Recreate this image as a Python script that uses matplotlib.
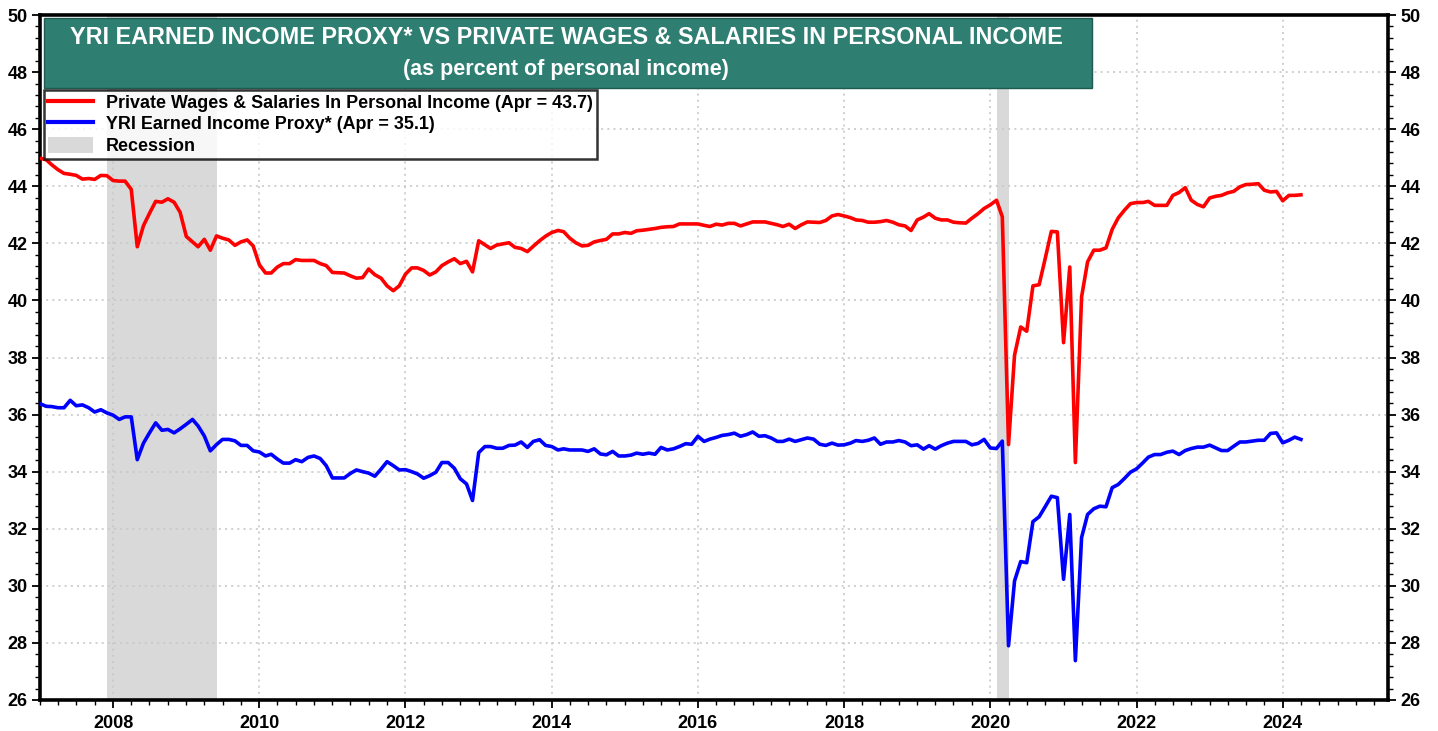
import numpy as np
import pandas as pd
import matplotlib
matplotlib.use("Agg")
import matplotlib.pyplot as plt
import matplotlib.dates as mdates
from matplotlib.patches import Patch, Rectangle
from matplotlib.lines import Line2D
from matplotlib.ticker import MultipleLocator

# ---------------- data (monthly, Jan 2007 - Apr 2024) ----------------
start_month = "2007-01-01"

wages_pct = [
    # 2007
    44.98, 44.93, 44.75, 44.58, 44.45, 44.42, 44.38, 44.25, 44.27, 44.24, 44.38, 44.37,
    # 2008
    44.20, 44.18, 44.18, 43.89, 41.88, 42.62, 43.05, 43.47, 43.44, 43.56, 43.44, 43.09,
    # 2009
    42.24, 42.05, 41.88, 42.14, 41.76, 42.26, 42.18, 42.12, 41.93, 42.05, 42.12, 41.91,
    # 2010
    41.25, 40.96, 40.96, 41.17, 41.29, 41.29, 41.43, 41.40, 41.40, 41.40, 41.29, 41.22,
    # 2011
    40.98, 40.97, 40.96, 40.86, 40.78, 40.80, 41.10, 40.90, 40.78, 40.51, 40.34, 40.51,
    # 2012
    40.92, 41.14, 41.14, 41.05, 40.89, 41.00, 41.22, 41.35, 41.46, 41.29, 41.37, 41.00,
    # 2013
    42.09, 41.95, 41.82, 41.94, 41.98, 42.02, 41.86, 41.82, 41.71, 41.90, 42.09, 42.25,
    # 2014
    42.38, 42.45, 42.41, 42.18, 42.02, 41.91, 41.93, 42.05, 42.10, 42.14, 42.33, 42.33,
    # 2015
    42.38, 42.35, 42.44, 42.46, 42.49, 42.52, 42.56, 42.58, 42.59, 42.68, 42.68, 42.68,
    # 2016
    42.68, 42.63, 42.59, 42.67, 42.64, 42.70, 42.70, 42.61, 42.68, 42.75, 42.75, 42.75,
    # 2017
    42.70, 42.65, 42.59, 42.67, 42.52, 42.65, 42.75, 42.74, 42.73, 42.80, 42.96, 43.01,
    # 2018
    42.96, 42.90, 42.82, 42.80, 42.74, 42.74, 42.76, 42.80, 42.74, 42.65, 42.61, 42.45,
    # 2019
    42.82, 42.92, 43.04, 42.88, 42.82, 42.82, 42.74, 42.72, 42.71, 42.88, 43.04, 43.22,
    # 2020
    43.35, 43.51, 42.93, 34.95, 38.08, 39.07, 38.92, 40.51, 40.55, 41.46, 42.42, 42.40,
    # 2021
    38.52, 41.17, 34.32, 40.12, 41.35, 41.76, 41.76, 41.84, 42.49, 42.89, 43.16, 43.39,
    # 2022
    43.43, 43.43, 43.47, 43.33, 43.33, 43.33, 43.68, 43.78, 43.95, 43.51, 43.36, 43.28,
    # 2023
    43.59, 43.65, 43.68, 43.77, 43.82, 43.98, 44.06, 44.07, 44.09, 43.86, 43.80, 43.82,
    # 2024
    43.49, 43.68, 43.68, 43.70,
]

proxy_pct = [
    # 2007
    36.38, 36.29, 36.28, 36.24, 36.24, 36.50, 36.31, 36.34, 36.24, 36.09, 36.17, 36.06,
    # 2008
    35.98, 35.83, 35.92, 35.92, 34.42, 35.00, 35.36, 35.71, 35.45, 35.48, 35.36, 35.50,
    # 2009
    35.66, 35.83, 35.60, 35.25, 34.73, 34.95, 35.13, 35.13, 35.08, 34.92, 34.92, 34.73,
    # 2010
    34.69, 34.55, 34.61, 34.44, 34.30, 34.30, 34.42, 34.35, 34.50, 34.55, 34.46, 34.21,
    # 2011
    33.78, 33.78, 33.78, 33.94, 34.06, 34.00, 33.95, 33.84, 34.09, 34.35, 34.21, 34.06,
    # 2012
    34.07, 34.00, 33.92, 33.77, 33.86, 33.98, 34.32, 34.32, 34.12, 33.75, 33.57, 32.99,
    # 2013
    34.67, 34.88, 34.88, 34.82, 34.82, 34.92, 34.93, 35.04, 34.85, 35.06, 35.12, 34.92,
    # 2014
    34.88, 34.76, 34.80, 34.76, 34.76, 34.76, 34.71, 34.80, 34.62, 34.59, 34.71, 34.55,
    # 2015
    34.55, 34.58, 34.65, 34.61, 34.65, 34.61, 34.85, 34.76, 34.80, 34.88, 34.98, 34.96,
    # 2016
    35.24, 35.06, 35.14, 35.20, 35.27, 35.30, 35.35, 35.24, 35.30, 35.39, 35.24, 35.26,
    # 2017
    35.18, 35.06, 35.06, 35.14, 35.06, 35.12, 35.18, 35.14, 34.96, 34.92, 35.00, 34.93,
    # 2018
    34.94, 35.00, 35.09, 35.06, 35.10, 35.18, 34.96, 35.04, 35.04, 35.09, 35.04, 34.91,
    # 2019
    34.94, 34.79, 34.91, 34.79, 34.91, 35.00, 35.06, 35.06, 35.06, 34.94, 34.99, 35.13,
    # 2020
    34.83, 34.81, 35.07, 27.90, 30.17, 30.85, 30.81, 32.25, 32.42, 32.77, 33.14, 33.09,
    # 2021
    30.23, 32.50, 27.38, 31.69, 32.50, 32.70, 32.79, 32.77, 33.44, 33.55, 33.76, 33.98,
    # 2022
    34.10, 34.31, 34.51, 34.60, 34.60, 34.68, 34.72, 34.60, 34.74, 34.81, 34.86, 34.86,
    # 2023
    34.93, 34.83, 34.74, 34.74, 34.89, 35.04, 35.04, 35.07, 35.10, 35.10, 35.34, 35.36,
    # 2024
    35.01, 35.10, 35.21, 35.13,
]

recessions = [("2007-12-01", "2009-06-01"), ("2020-02-01", "2020-04-01")]

title_line1 = "YRI EARNED INCOME PROXY* VS PRIVATE WAGES & SALARIES IN PERSONAL INCOME"
title_line2 = "(as percent of personal income)"
label_wages = "Private Wages & Salaries In Personal Income (Apr = 43.7)"
label_proxy = "YRI Earned Income Proxy* (Apr = 35.1)"
label_rec = "Recession"

y_min, y_max = 26, 50

# ---------------- figure ----------------
dates = pd.date_range(start_month, periods=len(wages_pct), freq="MS")

fig = plt.figure(figsize=(14.38, 7.31), dpi=100)
ax = fig.add_axes([40 / 1438, 1 - 700 / 731, (1388 - 40) / 1438, (700 - 15) / 731])

TICK_FONT = ["Liberation Sans Narrow", "Liberation Sans", "DejaVu Sans"]
TEXT_FONT = ["Liberation Sans", "DejaVu Sans"]

rec_color = "#d9d9d9"
for s, e in recessions:
    ax.axvspan(pd.Timestamp(s), pd.Timestamp(e), color=rec_color, lw=0, zorder=0)

ax.plot(dates, wages_pct, color="#ff0000", lw=2.6, zorder=3, solid_joinstyle="round")
ax.plot(dates, proxy_pct, color="#0000ff", lw=2.6, zorder=3, solid_joinstyle="round")

ax.set_ylim(y_min, y_max)
ax.set_xlim(pd.Timestamp("2007-01-01"), pd.Timestamp("2025-06-10"))

ax.xaxis.set_major_locator(mdates.YearLocator(2))
ax.xaxis.set_major_formatter(mdates.DateFormatter("%Y"))
ax.xaxis.set_minor_locator(mdates.MonthLocator(bymonth=[1, 4, 7, 10]))
ax.yaxis.set_major_locator(MultipleLocator(2))
ax.yaxis.set_minor_locator(MultipleLocator(0.4))

ax.grid(True, which="major", color="#c8c8c8", linestyle=(0, (1.2, 2.5)), lw=1.2, zorder=1)

ax.tick_params(axis="both", which="major", direction="out", length=6, width=1.3,
               labelsize=13, right=True, labelright=True, pad=3)
ax.tick_params(axis="both", which="minor", direction="out", length=3.5, width=1.0,
               right=True)
ax.tick_params(axis="x", which="major", pad=5)

for lab in ax.get_xticklabels() + ax.get_yticklabels():
    lab.set_fontfamily(TICK_FONT)
    lab.set_fontweight("bold")
for t in ax.yaxis.get_major_ticks():
    t.label2.set_fontfamily(TICK_FONT)
    t.label2.set_fontweight("bold")

for sp in ax.spines.values():
    sp.set_linewidth(2.6)
    sp.set_color("black")

# ---------------- title box ----------------
ax.add_patch(Rectangle((44 / 1438, 1 - 88 / 731), (1092 - 44) / 1438, (88 - 18) / 731,
                       transform=fig.transFigure, facecolor="#2e7e72",
                       edgecolor="#1f5a50", lw=1.0, zorder=5, clip_on=False))
fig.text(566 / 1438, 1 - 37 / 731, title_line1, ha="center", va="center",
         color="white", fontsize=16.8, fontweight="bold", family=TEXT_FONT, zorder=6)
fig.text(566 / 1438, 1 - 70 / 731, title_line2, ha="center", va="center",
         color="white", fontsize=15.5, fontweight="bold", family=TEXT_FONT, zorder=6)

# ---------------- legend ----------------
handles = [
    Line2D([], [], color="#ff0000", lw=3),
    Line2D([], [], color="#0000ff", lw=3),
    Patch(facecolor=rec_color, edgecolor="none"),
]
leg = ax.legend(handles, [label_wages, label_proxy, label_rec],
                loc="upper left", bbox_to_anchor=(44 / 1438, 1 - 90 / 731),
                bbox_transform=fig.transFigure, frameon=True, fancybox=False,
                borderaxespad=0, borderpad=0.22, labelspacing=0.18,
                handlelength=2.5, handleheight=1.0, handletextpad=0.75,
                prop={"family": TEXT_FONT, "weight": "bold", "size": 12.9})
leg.get_frame().set_edgecolor("black")
leg.get_frame().set_linewidth(1.8)
leg.set_zorder(6)

fig.savefig("out.png", dpi=100)
